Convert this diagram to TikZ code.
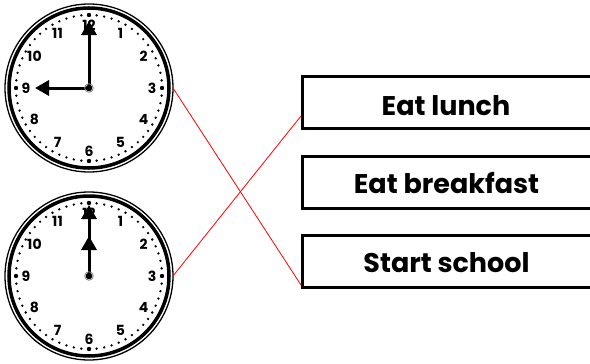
\documentclass[tikz,border=0pt]{standalone}
\usepackage{fontspec}
\setmainfont{Poppins}
\usetikzlibrary{arrows.meta}
\tikzset{
  clockrim/.style={circle, draw=black, line width=1.3pt, minimum size=168pt, inner sep=0pt, outer sep=0pt},
  numlbl/.style={font=\fontsize{14}{14}\selectfont\bfseries, inner sep=0pt},
  hand/.style={line width=3pt, -{Triangle[length=14pt,width=15pt]}},
  taskbox/.style={rectangle, draw=black, line width=3pt, minimum width=290.5pt, minimum height=52pt, inner sep=0pt, outer sep=0pt},
  tasktext/.style={font=\fontsize{27}{27}\selectfont\bfseries, anchor=base, inner sep=0pt},
  link/.style={draw=red, line width=0.8pt}
}
\newcommand{\clockdeco}[1]{%
  \draw[line width=3.5pt] (#1.center) circle (80pt);
  \begin{scope}[shift={(#1.center)}]
    \foreach \m in {0,...,59}{
      \pgfmathsetmacro{\rr}{ifthenelse(mod(\m,15)==0,2.2,1.3)}
      \fill ({90-6*\m}:73pt) circle (\rr pt);
    }
    \foreach \n in {1,...,12}{
      \node[numlbl] at ({90-30*\n}:63pt) {\n};
    }
  \end{scope}
}
\begin{document}
\begin{tikzpicture}[x=1pt,y=-1pt]
\useasboundingbox (0,0) rectangle (590,364);
\fill[white] (0,0) rectangle (590,364);

% clocks
\node[clockrim] (c1) at (89,88) {};
\node[clockrim] (c2) at (89,276) {};
\clockdeco{c1}
\clockdeco{c2}

% hands clock 1 (9 o'clock)
\draw[hand] (c1.center) -- ++(90:67pt);
\draw[hand] (c1.center) -- ++(180:54pt);
\fill[black] (c1.center) circle (3.3pt);
\draw[gray, line width=0.8pt] (c1.center) circle (4.3pt);

% hands clock 2 (12 o'clock)
\draw[hand] (c2.center) -- ++(90:71pt);
\draw[hand] (c2.center) -- ++(90:40pt);
\fill[black] (c2.center) circle (3.3pt);
\draw[gray, line width=0.8pt] (c2.center) circle (4.3pt);

% task boxes
\node[taskbox] (b1) at (447.75,102.5) {};
\node[taskbox] (b2) at (447.75,182) {};
\node[taskbox] (b3) at (447.75,261) {};
\node[tasktext] (t1) at (446,115) {Eat lunch};
\node[tasktext] (t2) at (446.5,193) {Eat breakfast};
\node[tasktext] (t3) at (446.5,272.5) {Start school};

% connectors
\coordinate (e3) at (301,285);
\coordinate (e1) at (301,116);
\draw[link] (c1.east) -- (e3);
\draw[link] (c2.east) -- (e1);
\end{tikzpicture}
\end{document}
